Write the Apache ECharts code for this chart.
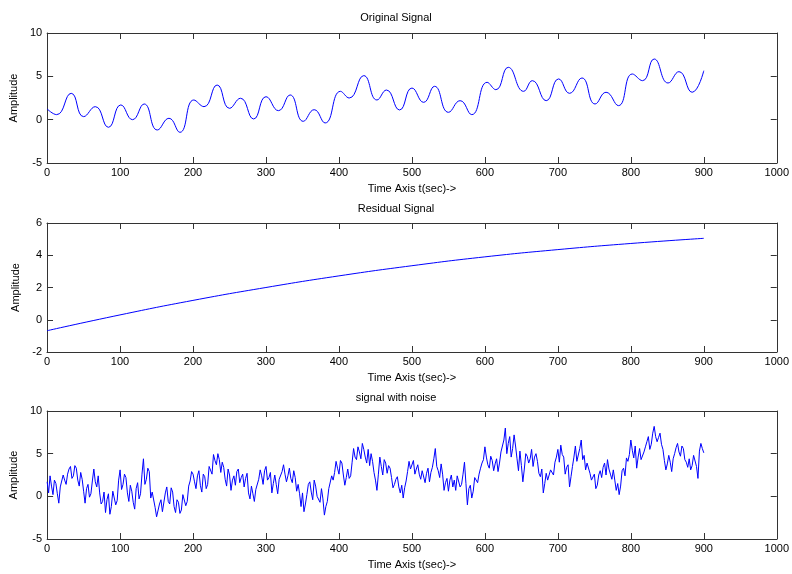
<!DOCTYPE html>
<html>
<head>
<meta charset="utf-8">
<script src="https://cdn.jsdelivr.net/npm/echarts@6/dist/echarts.min.js"></script>
<style>html,body{margin:0;padding:0;background:#fff}#c{width:792px;height:574px}</style>
</head>
<body>
<div id="c"></div>
<script>
// ---- data ----
var titles = ['Original Signal', 'Residual Signal', 'signal with noise'];
var xLabel = 'Time Axis t(sec)->';
var yLabel = 'Amplitude';

// Original signal: times and values of its turning points
var origT = [0,13,33,50,66,84,101,117,133,151,167,182,201,215,233,250,265,283,300,317,333,351,366,381,402,414,434,452,465,483,500,516,531,550,566,582,603,615,632,653,665,684,701,716,733,751,766,783,802,816,832,851,866,884,900];
var origV = [1.24,0.58,3.04,0.35,1.5,-0.88,1.7,0.0,1.81,-1.19,0.16,-1.46,2.27,1.5,4.0,1.31,2.47,0.08,2.65,1.04,2.85,-0.19,1.15,-0.38,3.27,2.5,5.08,2.27,3.42,1.12,3.65,2.0,3.85,0.85,2.19,0.58,4.31,3.46,6.04,3.27,4.5,2.19,4.7,3.04,4.81,1.81,3.16,1.62,5.27,4.5,7.0,4.23,5.54,3.16,5.65];

// Residual signal
var resT = [0,100,200,300,400,500,600,700,800,900];
var resV = [-0.68,0.3,1.2,2.0,2.72,3.35,3.9,4.35,4.73,5.05];

// Signal with noise: values at t = 0,4,8,...,900
var noiseV = [
 1.7,2.4,0.2,1.5,-0.8,1.3,1.9,2.6,3.5,2.4,
 3.3,1.2,2.0,-0.8,1.4,0.3,3.2,1.1,0.4,-0.6,
 -1.9,0.3,-1.2,0.4,-0.5,3.1,1.4,2.2,-0.6,0.6,
 -1.5,1.6,0.3,4.4,2.0,2.9,0.5,-1.3,-2.2,-0.4,
 -2.0,1.1,-0.9,0.5,-1.9,-0.7,-1.6,0.3,-0.6,1.8,
 2.6,0.9,3.0,0.5,2.3,1.4,3.3,4.9,3.7,4.3,
 4.0,2.0,3.2,0.7,2.4,2.9,1.6,2.6,2.1,0.4,
 1.2,-0.6,0.9,3.1,1.4,3.5,2.2,0.4,2.5,0.3,
 2.1,3.7,1.7,3.3,1.6,2.2,1.4,-1.2,-1.8,0.2,
 1.7,-0.4,1.2,0.1,0.9,-2.2,-0.6,0.7,1.9,4.1,
 2.6,3.9,1.3,3.2,2.4,5.6,4.3,5.2,6.2,4.6,
 5.5,5.0,2.8,0.7,4.6,2.5,3.9,3.6,2.2,1.4,
 2.3,0.4,-0.2,1.8,4.1,3.0,2.6,3.7,2.0,3.2,
 2.7,1.7,3.4,5.6,3.0,3.8,0.7,2.1,1.9,1.1,
 0.7,2.6,1.4,4.0,-1.0,1.3,0.6,2.0,2.6,3.9,
 5.8,3.7,4.7,3.0,4.4,3.9,5.4,8.0,6.2,4.6,
 7.2,4.4,5.3,1.7,5.0,3.9,5.5,4.6,4.1,2.3,
 0.4,2.7,1.8,3.3,4.0,5.5,6.0,4.6,3.4,1.1,
 3.5,5.9,4.0,6.6,4.8,3.9,2.7,1.7,0.9,2.5,
 2.2,3.9,4.3,2.6,3.1,0.7,0.2,3.0,2.4,4.1,
 6.6,4.5,3.3,5.6,4.2,5.8,7.0,6.1,8.2,6.4,
 7.4,5.5,3.1,4.8,2.9,5.0,6.2,4.7,5.6,4.0,
 4.4,3.6,4.6,2.1,6.2,5.1
];
// Signal with noise: values at t = 2,6,10,...,898
var noiseMidV = [
 0.4,1.2,1.9,0.3,1.1,2.5,1.4,3.2,2.1,3.6,
 1.9,2.8,0.6,0.9,-0.1,1.8,1.7,2.4,-0.9,0.5,
 -0.4,-2.1,0.6,-1.0,1.9,0.8,2.6,0.4,1.3,-0.7,
 0.9,-0.3,2.6,1.4,3.3,-0.2,0.6,-2.4,-0.9,-1.8,
 0.4,-0.6,1.0,-1.2,-0.4,-2.0,0.2,-1.1,1.2,2.9,
 1.7,2.4,1.3,2.6,0.9,3.5,2.6,4.2,5.0,2.8,
 3.4,1.2,2.5,1.9,1.3,3.2,2.2,1.1,2.7,-0.3,
 0.3,0.8,2.0,2.4,3.0,1.9,2.8,1.5,1.4,2.0,
 2.9,2.6,2.4,2.1,3.0,0.6,0.3,0.4,-0.9,1.4,
 0.5,1.9,0.0,-0.7,-0.3,-1.2,0.9,2.4,2.8,3.3,
 4.2,2.5,2.2,2.1,4.0,4.6,5.8,4.4,5.5,3.9,
 3.6,4.1,1.9,2.6,3.5,4.3,2.7,3.3,1.0,2.0,
 1.1,1.3,1.0,2.9,3.2,4.2,3.2,2.6,3.0,1.6,
 3.3,2.8,4.4,3.5,2.2,2.6,1.6,0.6,2.5,1.9,
 2.4,1.1,2.6,1.5,0.9,-0.2,2.2,1.6,3.3,4.3,
 4.6,3.3,4.2,3.8,2.9,5.2,6.6,5.0,7.0,5.6,
 5.9,3.0,3.6,3.2,4.7,4.4,3.5,5.0,2.7,3.2,
 1.5,1.9,3.1,2.5,4.6,4.0,4.9,2.6,3.7,2.3,
 4.6,4.1,5.6,4.3,3.1,3.8,1.9,2.6,1.3,3.0,
 3.4,2.5,3.2,2.0,1.9,1.5,1.2,3.3,4.5,4.9,
 5.4,5.9,4.6,4.3,5.2,6.4,5.5,7.4,7.0,6.9,
 6.1,4.2,3.8,4.0,4.4,5.7,5.2,5.9,4.3,3.4,
 3.1,4.8,3.5,5.3,5.6
];
var noiseStep = 4;

var yRanges = [[-5,10,5],[-2,6,2],[-5,10,5]];
var xTicks = [0,1000,100];

// ---- build chart ----
function pairs(ts, vs){ var o=[]; for (var i=0;i<vs.length;i++) o.push([ts[i], vs[i]]); return o; }
var noiseData = [];
for (var i=0;i<noiseV.length;i++) {
  noiseData.push([i*noiseStep, noiseV[i]]);
  if (i < noiseMidV.length) noiseData.push([i*noiseStep + noiseStep/2, noiseMidV[i]]);
}

var FONT = 'Liberation Sans, Arial, sans-serif';
var AX = '#333';
var gridTops = [33, 223, 411];
var gridHeights = [130, 129, 128];
var titleTops = [7, 198, 387];

var grids=[], xAxes=[], yAxes=[], series=[], title=[];
for (var g=0; g<3; g++) {
  grids.push({left:47, right:13, top:gridTops[g], height:gridHeights[g], containLabel:false, show:false});
  title.push({text:titles[g], left:'center', top:titleTops[g], textStyle:{fontFamily:FONT, fontSize:11, fontWeight:'normal', color:'#000'}});
  xAxes.push({type:'value', gridIndex:g, min:xTicks[0], max:xTicks[1], interval:xTicks[2], position:'bottom',
    name:xLabel, nameLocation:'middle', nameGap:20,
    nameTextStyle:{fontFamily:FONT, fontSize:11, color:'#000'},
    axisLine:{show:true, onZero:false, lineStyle:{color:AX, width:1}},
    axisTick:{show:true, inside:true, length:6, lineStyle:{color:AX}},
    axisLabel:{show:true, margin:4, fontFamily:FONT, fontSize:11, color:'#000', formatter:function(v){return String(v);}},
    splitLine:{show:false}});
  xAxes.push({type:'value', gridIndex:g, min:xTicks[0], max:xTicks[1], interval:xTicks[2], position:'top',
    axisLine:{show:true, onZero:false, lineStyle:{color:AX, width:1}},
    axisTick:{show:true, inside:true, length:6, lineStyle:{color:AX}},
    axisLabel:{show:false}, splitLine:{show:false}});
  var r = yRanges[g];
  yAxes.push({type:'value', gridIndex:g, min:r[0], max:r[1], interval:r[2], position:'left',
    name:yLabel, nameLocation:'middle', nameGap:16,
    nameTextStyle:{fontFamily:FONT, fontSize:11, color:'#000'},
    axisLine:{show:true, onZero:false, lineStyle:{color:AX, width:1}},
    axisTick:{show:true, inside:true, length:6, lineStyle:{color:AX}},
    axisLabel:{show:true, margin:5, fontFamily:FONT, fontSize:11, color:'#000'},
    splitLine:{show:false}});
  yAxes.push({type:'value', gridIndex:g, min:r[0], max:r[1], interval:r[2], position:'right',
    axisLine:{show:true, onZero:false, lineStyle:{color:AX, width:1}},
    axisTick:{show:true, inside:true, length:6, lineStyle:{color:AX}},
    axisLabel:{show:false}, splitLine:{show:false}});
}

series.push({type:'line', xAxisIndex:0, yAxisIndex:0, data:pairs(origT, origV), smooth:0.5, showSymbol:false,
  lineStyle:{color:'#0000ff', width:1}});
series.push({type:'line', xAxisIndex:2, yAxisIndex:2, data:pairs(resT, resV), smooth:0.5, showSymbol:false,
  lineStyle:{color:'#0000ff', width:1}});
series.push({type:'line', xAxisIndex:4, yAxisIndex:4, data:noiseData, showSymbol:false,
  lineStyle:{color:'#0000ff', width:1}});

var chart = echarts.init(document.getElementById('c'), null, {renderer:'canvas'});
chart.setOption({animation:false, backgroundColor:'#fff', title:title, grid:grids, xAxis:xAxes, yAxis:yAxes, series:series});
</script>
</body>
</html>
